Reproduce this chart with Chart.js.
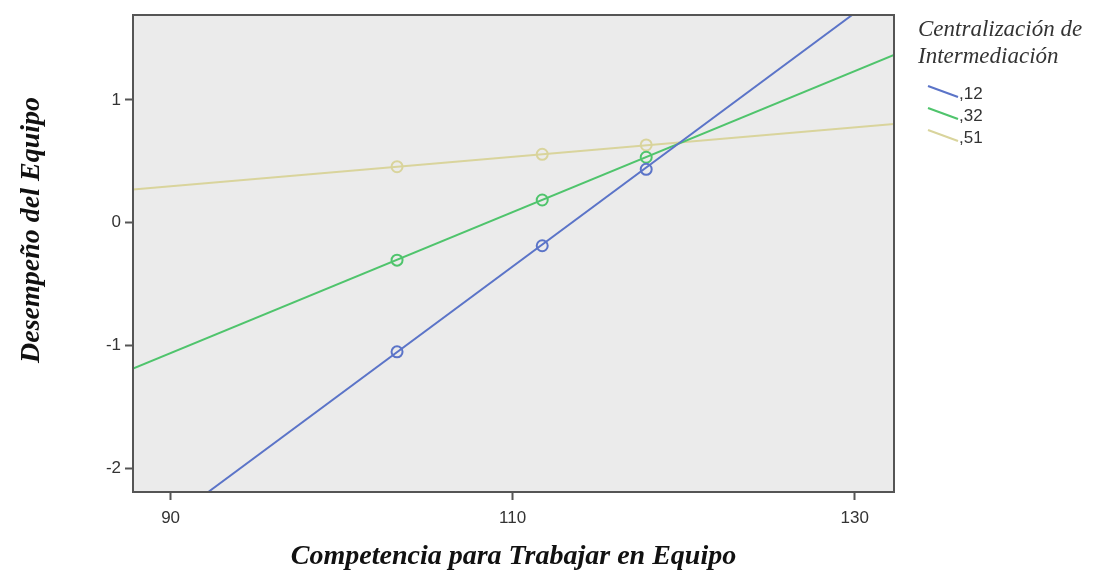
<!DOCTYPE html>
<html><head><meta charset="utf-8">
<script src="https://cdn.jsdelivr.net/npm/chart.js@4.4.1/dist/chart.umd.min.js"></script>
<style>
html,body{margin:0;padding:0;background:#fff;}
#wrap{position:relative;width:1093px;height:574px;}
canvas{position:absolute;left:0;top:0;}
.lt{position:absolute;font-family:"Liberation Serif","DejaVu Serif",serif;font-style:italic;font-size:23px;color:#333;white-space:nowrap;}
.li{position:absolute;font-family:"Liberation Sans",Arial,sans-serif;font-size:17px;color:#333;}
</style></head>
<body><div id="wrap"><canvas id="c" width="1093" height="574"></canvas><div id="legend"></div></div>
<script>
const legendTitle = ["Centralización de", "Intermediación"];
const seriesNames = [",12", ",32", ",51"];
const seriesColors = ["#5b74c8", "#4fc46c", "#d9d49c"];
const xTitle = "Competencia para Trabajar en Equipo";
const yTitle = "Desempeño del Equipo";
const xTicks = [90, 110, 130];
const yTicks = [-2, -1, 0, 1];
const xRange = [87.8, 132.3];
const yRange = [-2.19, 1.69];
// fitted lines (endpoints where the line meets the plot edges)
const lineBlue  = [{x:92.2,y:-2.19},{x:129.85,y:1.69}];
const lineGreen = [{x:87.8,y:-1.186},{x:132.3,y:1.366}];
const lineTan   = [{x:87.8,y:0.27},{x:132.3,y:0.804}];
// observed means
const ptX = [103.24, 111.73, 117.81];
const ptBlue  = [-1.05, -0.187, 0.435];
const ptGreen = [-0.304, 0.185, 0.533];
const ptTan   = [0.456, 0.557, 0.633];

const lines = [lineBlue, lineGreen, lineTan];
const pts = [ptBlue, ptGreen, ptTan];
const datasets = [];
lines.forEach((l,i)=>{
  datasets.push({type:'line',label:seriesNames[i],data:l,borderColor:seriesColors[i],borderWidth:2,pointRadius:0,fill:false,tension:0,order:2});
});
pts.forEach((p,i)=>{
  datasets.push({type:'scatter',label:seriesNames[i]+'_pts',data:p.map((v,k)=>({x:ptX[k],y:v})),borderColor:seriesColors[i],backgroundColor:'rgba(0,0,0,0)',borderWidth:2,pointRadius:5.5,showLine:false,order:1});
});

const bgPlugin = {
  id:'bg',
  beforeDraw(chart){
    const {ctx, chartArea:a} = chart;
    ctx.save(); ctx.fillStyle='#ebebeb'; ctx.fillRect(a.left,a.top,a.right-a.left,a.bottom-a.top); ctx.restore();
  },
  afterDraw(chart){
    const {ctx, chartArea:a} = chart;
    ctx.save(); ctx.strokeStyle='#555'; ctx.lineWidth=2;
    ctx.strokeRect(a.left,a.top,a.right-a.left,a.bottom-a.top);
    ctx.translate(32,230); ctx.rotate(-Math.PI/2);
    ctx.fillStyle='#111'; ctx.font='italic bold 28px "Liberation Serif", serif';
    ctx.textAlign='center'; ctx.textBaseline='middle';
    ctx.fillText(yTitle,0,0);
    ctx.restore();
  }
};

new Chart(document.getElementById('c'), {
  data:{datasets},
  plugins:[bgPlugin],
  options:{
    responsive:false, animation:false,
    layout:{padding:{left:0,top:15,right:199,bottom:0}},
    plugins:{legend:{display:false},tooltip:{enabled:false}},
    scales:{
      x:{type:'linear',min:xRange[0],max:xRange[1],
        afterBuildTicks(s){ s.ticks = xTicks.map(v=>({value:v})); },
        afterFit(s){ s.height = 82; },
        grid:{display:true,drawOnChartArea:false,drawTicks:true,tickLength:8,tickColor:'#555',tickWidth:2},
        border:{display:true,color:'#555',width:2},
        ticks:{color:'#333',font:{family:'"Liberation Sans", Arial, sans-serif',size:17},padding:8,maxRotation:0,autoSkip:false},
        title:{display:true,text:xTitle,color:'#111',font:{family:'"Liberation Serif", serif',size:28,style:'italic',weight:'bold'},padding:{top:10,bottom:0}}
      },
      y:{type:'linear',min:yRange[0],max:yRange[1],
        afterBuildTicks(s){ s.ticks = yTicks.map(v=>({value:v})); },
        afterFit(s){ s.width = 133; },
        grid:{display:true,drawOnChartArea:false,drawTicks:true,tickLength:8,tickColor:'#555',tickWidth:2},
        border:{display:true,color:'#555',width:2},
        ticks:{color:'#333',font:{family:'"Liberation Sans", Arial, sans-serif',size:17},padding:4},
        title:{display:false}
      }
    }
  }
});

// legend
const lg = document.getElementById('legend');
legendTitle.forEach((t,i)=>{
  const d=document.createElement('div'); d.className='lt'; d.textContent=t;
  d.style.left='918px'; d.style.top=(16+i*27)+'px'; lg.appendChild(d);
});
seriesNames.forEach((n,i)=>{
  const y0 = 85 + i*22;
  const s=document.createElementNS('http://www.w3.org/2000/svg','svg');
  s.setAttribute('width','34'); s.setAttribute('height','16');
  s.style.position='absolute'; s.style.left='927px'; s.style.top=y0+'px';
  const ln=document.createElementNS('http://www.w3.org/2000/svg','line');
  ln.setAttribute('x1','1');ln.setAttribute('y1','1');ln.setAttribute('x2','31');ln.setAttribute('y2','12');
  ln.setAttribute('stroke',seriesColors[i]);ln.setAttribute('stroke-width','2');
  s.appendChild(ln); lg.appendChild(s);
  const d=document.createElement('div'); d.className='li'; d.textContent=n;
  d.style.left='959px'; d.style.top=(y0-1)+'px'; lg.appendChild(d);
});
</script></body></html>
